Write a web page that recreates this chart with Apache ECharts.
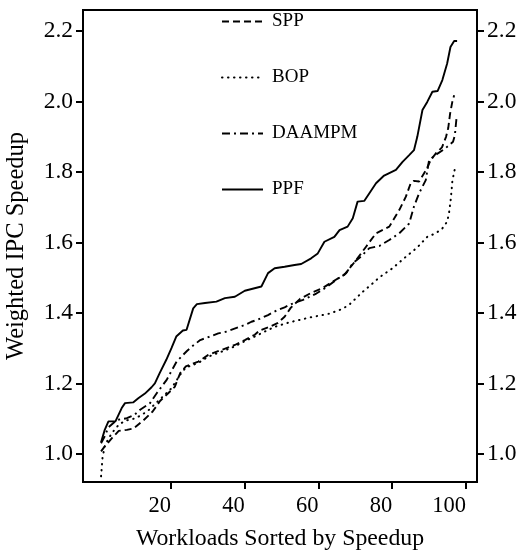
<!DOCTYPE html>
<html><head><meta charset="utf-8">
<script src="https://cdn.jsdelivr.net/npm/echarts@6/dist/echarts.min.js"></script>
<style>html,body{margin:0;padding:0;background:#fff}#c{width:520px;height:553px}</style>
</head><body><div id="c"></div>
<script>
// ---- data ----
const seriesNames = ['SPP', 'BOP', 'DAAMPM', 'PPF'];
const xTicks = [20, 40, 60, 80, 100];
const yTicks = [1.0, 1.2, 1.4, 1.6, 1.8, 2.0, 2.2];

const sppX = [1, 2, 4, 5.8, 8, 9.8, 12.5, 15, 17, 19, 21, 22.5, 24, 27.4, 30.1, 33.7, 37.3, 40, 42.7, 44, 47, 49, 50.8, 52.5, 55, 58, 61, 64, 67, 70.2, 72.9, 75.6, 79.2, 81.9, 83.7, 85, 85.9, 87.3, 89.2, 90.5, 92, 93.5, 94.6, 95.2, 95.7, 96.3, 96.8];
const sppY = [1.007, 1.021, 1.045, 1.065, 1.068, 1.072, 1.095, 1.12, 1.15, 1.17, 1.19, 1.23, 1.248, 1.262, 1.281, 1.295, 1.309, 1.323, 1.338, 1.35, 1.362, 1.372, 1.389, 1.415, 1.44, 1.457, 1.47, 1.49, 1.508, 1.55, 1.588, 1.626, 1.645, 1.692, 1.730, 1.768, 1.775, 1.773, 1.806, 1.835, 1.855, 1.87, 1.90, 1.925, 1.966, 1.999, 2.018];

const bopX = [1, 1.4, 2.1, 4, 6, 8, 10, 12, 14, 16, 18, 20, 22.5, 24, 27.4, 30.1, 33.7, 37.3, 40, 42.7, 45, 48, 52, 57.6, 63, 66.6, 68.5, 70.2, 72, 74.7, 76.5, 80.1, 83.2, 86.8, 89.5, 91.8, 93.6, 94.9, 95.4, 95.9, 96.3, 96.8, 97.3];
const bopY = [0.936, 0.99, 1.026, 1.06, 1.085, 1.095, 1.10, 1.11, 1.125, 1.145, 1.165, 1.185, 1.225, 1.245, 1.258, 1.276, 1.29, 1.305, 1.32, 1.333, 1.345, 1.36, 1.373, 1.387, 1.398, 1.412, 1.425, 1.442, 1.46, 1.484, 1.501, 1.527, 1.555, 1.586, 1.616, 1.626, 1.640, 1.659, 1.683, 1.725, 1.772, 1.801, 1.82];

const daaX = [1, 2, 3, 5.3, 8, 10, 11.6, 14.3, 16.1, 18.8, 21.5, 24.3, 25.6, 27.9, 30.6, 32.8, 35.1, 38.2, 40.1, 41.8, 43.3, 46.3, 49, 50.8, 52.6, 55.8, 59.4, 62, 64.8, 67.5, 69.3, 71.5, 73.8, 76.5, 79.2, 81.9, 84.6, 85.9, 87.3, 89.1, 90, 92.4, 94.5, 95.5, 96.5, 97, 97.5];
const daaY = [1.03, 1.05, 1.075, 1.096, 1.101, 1.11, 1.125, 1.144, 1.172, 1.21, 1.262, 1.292, 1.304, 1.323, 1.333, 1.342, 1.347, 1.359, 1.366, 1.375, 1.38, 1.394, 1.409, 1.416, 1.425, 1.437, 1.455, 1.472, 1.494, 1.513, 1.541, 1.560, 1.584, 1.590, 1.607, 1.626, 1.654, 1.702, 1.740, 1.777, 1.834, 1.853, 1.868, 1.877, 1.886, 1.905, 1.960];

const ppfX = [1, 2, 3, 4.9, 6.6, 7.5, 9.7, 11.1, 12.9, 14.7, 15.6, 16.9, 18.7, 20.1, 21.4, 23.2, 24.2, 26, 27, 29.2, 32.3, 34.6, 37.3, 40, 44.5, 46.3, 48.1, 50.8, 53.5, 55.3, 58, 59.8, 61.6, 64.3, 65.7, 67.9, 69.3, 70.6, 72.4, 73.8, 75.6, 77.8, 81, 82.8, 84.6, 85.9, 86.8, 88.2, 89.5, 90.9, 92.3, 93.6, 94.9, 95.8, 96.8, 97.6];
const ppfY = [1.033, 1.068, 1.092, 1.092, 1.130, 1.144, 1.146, 1.158, 1.171, 1.189, 1.200, 1.229, 1.267, 1.300, 1.333, 1.350, 1.352, 1.413, 1.425, 1.428, 1.432, 1.442, 1.446, 1.463, 1.475, 1.513, 1.527, 1.531, 1.536, 1.539, 1.555, 1.569, 1.602, 1.616, 1.635, 1.645, 1.669, 1.716, 1.718, 1.740, 1.768, 1.790, 1.806, 1.829, 1.848, 1.862, 1.900, 1.976, 1.999, 2.028, 2.030, 2.061, 2.108, 2.155, 2.172, 2.172];

// ---- chart ----
const font = '"Liberation Serif", "Times New Roman", Times, serif';
const zip = (xs, ys) => xs.map((x, i) => [x, ys[i]]);
const chart = echarts.init(document.getElementById('c'), null, {renderer: 'canvas'});

function line(name, xs, ys, type, width, cap) {
  return {
    name: name, type: 'line', data: zip(xs, ys), symbol: 'none', showSymbol: false,
    smooth: false, animation: false,
    lineStyle: {color: '#000', width: width, type: type, cap: cap || 'butt'},
    itemStyle: {color: '#000'}
  };
}
const yAxisBase = {
  type: 'value', min: 0.92, max: 2.26,
  axisLine: {show: true, onZero: false, lineStyle: {color: '#000', width: 2}},
  axisTick: {show: true, customValues: yTicks, length: 7, lineStyle: {color: '#000', width: 2}},
  axisLabel: {customValues: yTicks, formatter: v => Number(v).toFixed(1), fontFamily: font, fontSize: 23.5, color: '#000', margin: 10},
  splitLine: {show: false}
};

chart.setOption({
  animation: false,
  backgroundColor: '#fff',
  grid: {left: 83, right: 43, top: 10, bottom: 71, show: true, borderColor: '#000', borderWidth: 2,
         containLabel: false, outerBoundsMode: 'none'},
  legend: {
    orient: 'vertical', left: 221, top: 12, padding: 0, itemWidth: 41, itemHeight: 20, itemGap: 37,
    data: seriesNames,
    itemStyle: {opacity: 0},
    textStyle: {fontFamily: font, fontSize: 19, color: '#000', padding: [0, 0, 0, 4]}
  },
  xAxis: {
    type: 'value', min: -3.9, max: 103,
    name: 'Workloads Sorted by Speedup', nameLocation: 'middle', nameGap: 45,
    nameTextStyle: {fontFamily: font, fontSize: 23.8, color: '#000'},
    axisLine: {show: true, onZero: false, lineStyle: {color: '#000', width: 2}},
    axisTick: {show: true, customValues: xTicks, length: 7, lineStyle: {color: '#000', width: 2}},
    axisLabel: {customValues: xTicks, align: 'right', fontFamily: font, fontSize: 22.5, color: '#000', margin: 13},
    splitLine: {show: false}
  },
  yAxis: [
    Object.assign({}, yAxisBase, {
      position: 'left',
      name: 'Weighted IPC Speedup', nameLocation: 'middle', nameGap: 54,
      nameTextStyle: {fontFamily: font, fontSize: 24.5, color: '#000'}
    }),
    Object.assign({}, yAxisBase, {position: 'right'})
  ],
  series: [
    line('SPP', sppX, sppY, [7, 4], 1.9),
    line('BOP', bopX, bopY, [0.5, 5.5], 2, 'round'),
    line('DAAMPM', daaX, daaY, [8, 4, 2, 4], 1.9),
    line('PPF', ppfX, ppfY, 'solid', 1.9)
  ]
});
</script>
</body></html>
